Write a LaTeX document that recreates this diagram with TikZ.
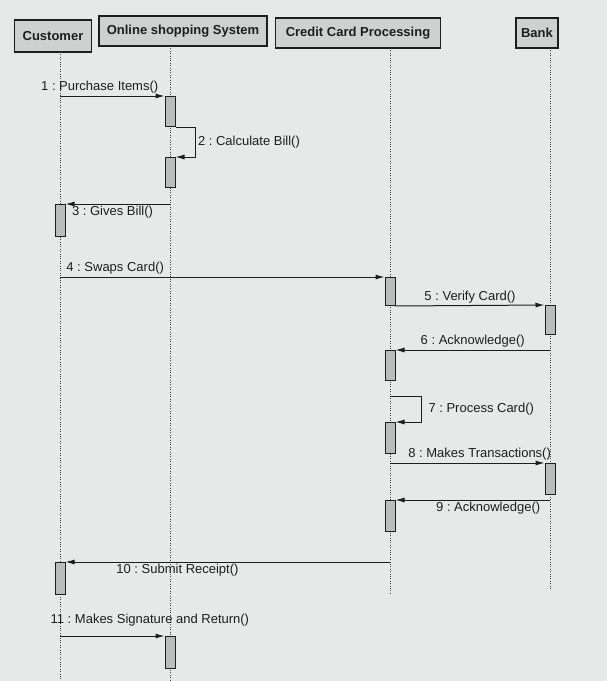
\documentclass[tikz,border=0pt]{standalone}
\usepackage{fontspec}
\setmainfont{Liberation Sans}
\usetikzlibrary{arrows.meta}
\definecolor{paper}{RGB}{230,233,232}
\definecolor{headfill}{RGB}{206,209,208}
\definecolor{barfill}{RGB}{186,189,188}
\definecolor{ink}{RGB}{30,30,30}
\frenchspacing
\begin{document}
\begin{tikzpicture}[x=1pt,y=-1pt]
	\tikzstyle{header}=[draw=ink,line width=1.3pt,fill=headfill,minimum height=30,inner sep=0pt,text=ink,font=\fontsize{13}{15}\selectfont\bfseries]
	\tikzstyle{lifeline}=[draw=ink!85,line width=1pt,dash pattern=on 1pt off 1.4pt]
	\tikzstyle{bar}=[draw=ink,line width=1pt,fill=barfill,minimum width=10,inner sep=0pt]
	\tikzstyle{msg}=[draw=ink,line width=1pt,-{Latex[length=9pt,width=5pt]}]
	\tikzstyle{lbl}=[inner sep=2pt,text=ink,font=\fontsize{13}{15}\selectfont]
	\fill[paper] (0,0) rectangle (607,681);
	\useasboundingbox (0,0) rectangle (607,681);
	% objects
	\node[header,minimum width=77,minimum height=32] (cust) at (53,36) {Customer};
	\node[header,minimum width=168] (oss) at (183,31) {Online shopping System};
	\node[header,minimum width=165] (ccp) at (358,33) {Credit Card Processing};
	\node[header,minimum width=42] (bank) at (537,33) {Bank};
	% lifelines
	\foreach \n/\x/\t/\b in {cust/60/52/681, oss/170/46/681, ccp/390/48/593, bank/550/48/590}
	{
		\coordinate (l\n) at (\x,\t);
		\coordinate (e\n) at (\x,\b);
		\draw[lifeline] (l\n) -- (e\n);
	}
	% activation bars
	\foreach \i/\n/\t/\h in {1/oss/96/30, 2/oss/157/30, 3/cust/204/32, 4/ccp/277/28, 5/bank/305/29, 6/ccp/350/30, 7/ccp/422/31, 8/bank/463/31, 9/ccp/500/31, 10/cust/562/32, 11/oss/636/32}
	{
		\node[bar,minimum height=\h,anchor=north] (b\i) at (l\n |- 0,\t) {};
	}
	% messages
	\draw[msg] (lcust |- b1.north) -- node[lbl,above,pos=0.38] {1 : Purchase Items()} (b1.north west);
	\draw[msg] (b1.south east) -- ++(20,0) |- node[lbl,right,pos=0.25] {2 : Calculate Bill()} (b2.north east);
	\draw[msg] (loss |- b3.north) -- node[lbl,below,pos=0.55] {3 : Gives Bill()} (b3.north east);
	\draw[msg] (lcust |- b4.north) -- node[lbl,above,pos=0.17] {4 : Swaps Card()} (b4.north west);
	\draw[msg] (b4.south east) -- node[lbl,above] {5 : Verify Card()} (b5.north west);
	\draw[msg] (lbank |- b6.north) -- node[lbl,above] {6 : Acknowledge()} (b6.north east);
	\draw[msg] (lccp |- 0,396) -- ++(31,0) |- node[lbl,right,pos=0.25,xshift=5] {7 : Process Card()} (b7.north east);
	\draw[msg] (lccp |- b8.north) -- node[lbl,above,pos=0.58] {8 : Makes Transactions()} (b8.north west);
	\draw[msg] (lbank |- b9.north) -- node[lbl,below,pos=0.4] {9 : Acknowledge()} (b9.north east);
	\draw[msg] (lccp |- b10.north) -- node[lbl,below,pos=0.655] {10 : Submit Receipt()} (b10.north east);
	\draw[msg] (lcust |- b11.north) -- node[lbl,above,pos=0.86,yshift=7] {11 : Makes Signature and Return()} (b11.north west);
\end{tikzpicture}
\end{document}
